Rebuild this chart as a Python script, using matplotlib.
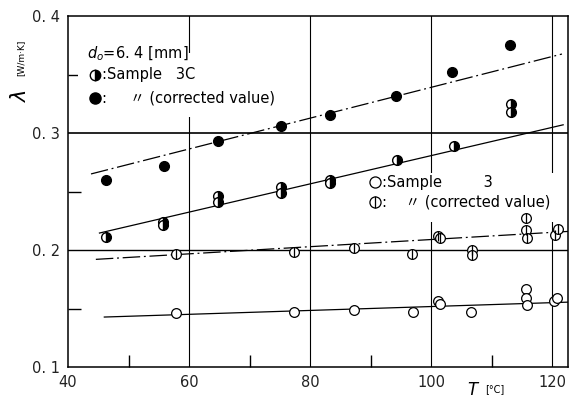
import numpy as np
import matplotlib
matplotlib.use("Agg")
import matplotlib.pyplot as plt

plt.rcParams['font.family'] = ['DejaVu Sans', 'Noto Sans CJK JP']

# ---- data ----
# Sample 3C (half filled) and its corrected values (solid)
t_3c = [46.3, 55.7, 55.7, 64.8, 64.8, 75.2, 75.2, 83.3, 83.3, 94.3, 103.7, 113.2, 113.2]
k_3c = [0.211, 0.224, 0.221, 0.246, 0.241, 0.254, 0.249, 0.260, 0.257, 0.277, 0.289, 0.325, 0.318]
t_3c_cor = [46.3, 55.8, 64.8, 75.2, 83.3, 94.2, 103.5, 113.0]
k_3c_cor = [0.260, 0.272, 0.293, 0.306, 0.315, 0.332, 0.352, 0.375]

# Sample 3 (open) and its corrected values (circle with bar)
t_3 = [57.8, 77.3, 87.2, 97.0, 101.2, 101.5, 106.5, 115.7, 115.7, 115.8, 120.3, 120.8]
k_3 = [0.146, 0.147, 0.149, 0.147, 0.156, 0.154, 0.147, 0.167, 0.159, 0.153, 0.156, 0.159]
t_3_cor = [57.8, 77.3, 87.2, 96.8, 101.1, 101.4, 106.7, 106.7, 115.7, 115.7, 115.8, 120.5, 120.9]
k_3_cor = [0.197, 0.198, 0.2015, 0.197, 0.212, 0.210, 0.200, 0.196, 0.227, 0.217, 0.210, 0.213, 0.218]

# fitted lines (end points)
fit_3c_t, fit_3c_k = [45.2, 121.8], [0.2145, 0.307]
fit_3c_cor_t, fit_3c_cor_k = [43.8, 121.6], [0.265, 0.3675]
fit_3_t, fit_3_k = [46.0, 123.0], [0.1427, 0.1555]
fit_3_cor_t, fit_3_cor_k = [44.6, 123.0], [0.192, 0.216]

xticks = [40, 60, 80, 100, 120]
yticks = [0.1, 0.2, 0.3, 0.4]
yticklabels = ['0. 1', '0. 2', '0. 3', '0. 4']

fig = plt.figure(figsize=(5.84, 4.01), dpi=100)
ax = fig.add_axes([68/584, 34/401, 500/584, 351/401])
ax.set_xlim(40, 122.6)
ax.set_ylim(0.1, 0.4)

# grid lines
for gx in [60, 80, 100, 120]:
    ax.axvline(gx, color='black', lw=0.8, zorder=1)
ax.axhline(0.2, color='black', lw=1.0, zorder=1)
ax.axhline(0.3, color='black', lw=1.2, zorder=1)

# fit lines
ax.plot(fit_3c_t, fit_3c_k, color='black', lw=0.9, zorder=2)
ax.plot(fit_3c_cor_t, fit_3c_cor_k, color='black', lw=0.9, dashes=[14, 3, 1.5, 3], zorder=2)
ax.plot(fit_3_t, fit_3_k, color='black', lw=0.9, zorder=2)
ax.plot(fit_3_cor_t, fit_3_cor_k, color='black', lw=0.9, dashes=[14, 3, 1.5, 3], zorder=2)

# markers
ax.plot(t_3c_cor, k_3c_cor, 'o', color='black', ms=7, zorder=5)
ax.plot(t_3c, k_3c, 'o', ms=7, mfc='black', mec='black', mew=1.0,
        fillstyle='right', markerfacecoloralt='white', zorder=5)
ax.plot(t_3, k_3, 'o', ms=7, mfc='white', mec='black', mew=0.9, zorder=5)
ax.plot(t_3_cor, k_3_cor, 'o', ms=7, mfc='white', mec='black', mew=0.9, zorder=5)
ax.plot(t_3_cor, k_3_cor, '|', ms=7, color='black', mew=0.9, zorder=6)

# ticks
ax.set_xticks(xticks)
ax.set_xticklabels([str(v) for v in xticks])
ax.set_yticks(yticks)
ax.set_yticklabels(yticklabels)
ax.set_xticks([50, 70, 90, 110], minor=True)
ax.set_yticks([0.15, 0.25, 0.35], minor=True)
ax.tick_params(which='major', length=0, labelsize=10.5, pad=6, colors='#222222')
ax.tick_params(which='minor', direction='in', length=9, width=1.0)
for s in ax.spines.values():
    s.set_linewidth(1.1)

# legend block (upper left)
ax.text(0.026, 0.73, ' ' * 48 + '\n\n\n', transform=ax.transAxes, fontsize=9,
        bbox=dict(fc='white', ec='none', pad=2), zorder=3)
ax.text(0.038, 0.893, r'$d_o$=6. 4 [mm]', transform=ax.transAxes, fontsize=10.5,
        va='center', zorder=7)
ax.plot([0.054], [0.832], 'o', transform=ax.transAxes, ms=7.5, mfc='black', mec='black',
        fillstyle='right', markerfacecoloralt='white', clip_on=False, zorder=7)
ax.text(0.068, 0.832, ':Sample   3C', transform=ax.transAxes, fontsize=10.5,
        va='center', zorder=7)
ax.plot([0.054], [0.766], 'o', transform=ax.transAxes, ms=8, color='black', zorder=7)
ax.text(0.068, 0.766, ':     \u3003 (corrected value)', transform=ax.transAxes,
        fontsize=10.5, va='center', zorder=7)

# legend block (lower right)
ax.text(0.59, 0.43, ' ' * 48 + '\n\n', transform=ax.transAxes, fontsize=9,
        bbox=dict(fc='white', ec='none', pad=2), zorder=3)
ax.plot([0.614], [0.527], 'o', transform=ax.transAxes, ms=8, mfc='white',
        mec='black', mew=0.9, zorder=7)
ax.text(0.628, 0.527, ':Sample         3', transform=ax.transAxes, fontsize=10.5,
        va='center', zorder=7)
ax.plot([0.614], [0.470], 'o', transform=ax.transAxes, ms=8, mfc='white',
        mec='black', mew=0.9, zorder=7)
ax.plot([0.614], [0.470], '|', transform=ax.transAxes, ms=8, color='black',
        mew=0.9, zorder=8)
ax.text(0.628, 0.470, ':    \u3003 (corrected value)', transform=ax.transAxes,
        fontsize=10.5, va='center', zorder=7)

# axis labels
fig.text(20/584, 1 - 95/401, r'$\lambda$', fontsize=15, rotation=90,
         ha='center', va='center')
fig.text(21/584, 1 - 58/401, '[W/m·K]', fontsize=6.5, rotation=90,
         ha='center', va='center')
fig.text(474/584, 1 - 390/401, r'$T$', fontsize=12, ha='center', va='center')
fig.text(495/584, 1 - 389/401, '[°C]', fontsize=7, ha='center', va='center')

fig.savefig('out.png', dpi=100)
